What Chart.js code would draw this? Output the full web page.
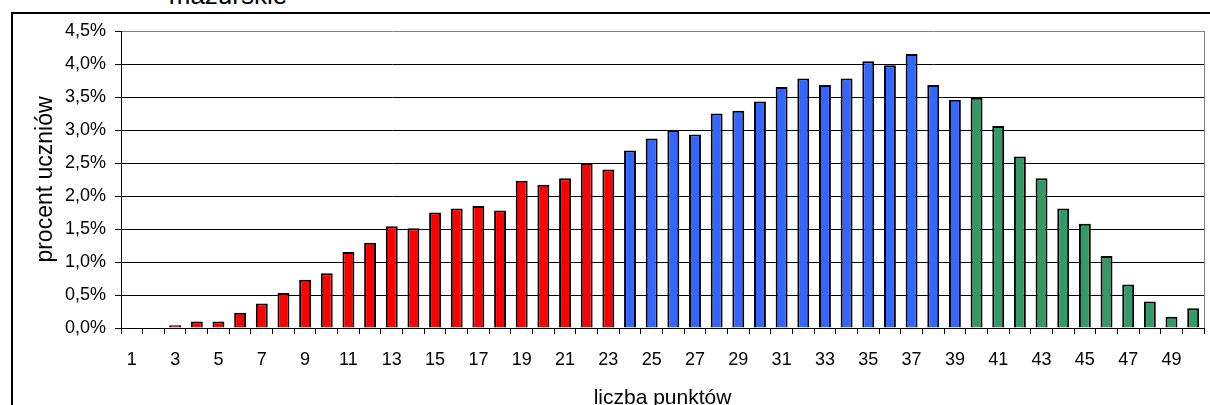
<!DOCTYPE html>
<html>
<head>
<meta charset="utf-8">
<script src="https://cdn.jsdelivr.net/npm/chart.js@4/dist/chart.umd.min.js"></script>
<style>
  html, body { margin: 0; padding: 0; background: #fff; overflow: hidden; }
  #wrap { position: relative; width: 1210px; height: 405px; overflow: hidden; }
  #frame { position: absolute; left: 11px; top: 12px; width: 1300px; height: 500px;
           border-left: 2px solid #000; border-top: 2px solid #000; }
  #title { position: absolute; left: 128px; width: 200px; top: -20px; line-height: 26px;
           text-align: center; font: 26px "Liberation Sans", Arial, sans-serif; color: #000; }
  canvas { position: absolute; left: 0; top: 0; }
</style>
</head>
<body>
<div id="wrap">
  <div id="title">mazurskie</div>
  <div id="frame"></div>
  <canvas id="chart" width="1210" height="405"></canvas>
</div>
<script>
// liczba punktów 1–50
const scorePoints = [
  "1", "2", "3", "4", "5", "6", "7", "8", "9", "10",
  "11", "12", "13", "14", "15", "16", "17", "18", "19", "20",
  "21", "22", "23", "24", "25", "26", "27", "28", "29", "30",
  "31", "32", "33", "34", "35", "36", "37", "38", "39", "40",
  "41", "42", "43", "44", "45", "46", "47", "48", "49", "50"
];

// procent uczniów, split into the three coloured groups
const lowScores = [   // 1–23
  0, 0, 0.04, 0.10, 0.10, 0.23, 0.37, 0.53, 0.73, 0.83,
  1.15, 1.29, 1.54, 1.51, 1.75, 1.81, 1.85, 1.78, 2.23, 2.17,
  2.27, 2.50, 2.40
];
const midScores = [   // 24–39
  2.69, 2.87, 3.00, 2.93, 3.25, 3.29, 3.43, 3.65, 3.78, 3.68,
  3.78, 4.04, 3.98, 4.15, 3.68, 3.46
];
const highScores = [  // 40–50
  3.49, 3.06, 2.60, 2.27, 1.81, 1.58, 1.09, 0.66, 0.40, 0.17,
  0.30
];

const yTicks = [0, 0.5, 1, 1.5, 2, 2.5, 3, 3.5, 4, 4.5];

const FONT = '"Liberation Sans", Arial, sans-serif';

// pad each group with nulls so it lines up with its categories
function place(values, start) {
  const out = scorePoints.map(() => null);
  values.forEach((v, i) => { out[start + i] = v; });
  return out;
}

const barStyle = {
  borderColor: "#000",
  borderWidth: 2,
  barPercentage: 0.55,
  categoryPercentage: 1
};

// gray border on the right of the plot area
const plotBorder = {
  id: "plotBorder",
  afterDraw(chart) {
    const { ctx, chartArea: a } = chart;
    ctx.save();
    ctx.strokeStyle = "#808080";
    ctx.lineWidth = 1;
    ctx.beginPath();
    ctx.moveTo(Math.round(a.right) + 0.5, a.top);
    ctx.lineTo(Math.round(a.right) + 0.5, a.bottom);
    ctx.stroke();
    ctx.restore();
  }
};

new Chart(document.getElementById("chart").getContext("2d"), {
  type: "bar",
  data: {
    labels: scorePoints,
    datasets: [
      { data: place(lowScores, 0), backgroundColor: "#FF0000", ...barStyle },
      { data: place(midScores, lowScores.length), backgroundColor: "#3366FF", ...barStyle },
      { data: place(highScores, lowScores.length + midScores.length), backgroundColor: "#339966", ...barStyle }
    ]
  },
  options: {
    responsive: false,
    animation: false,
    grouped: false,
    layout: { padding: { top: 31, right: 6, left: 0, bottom: 0 } },
    plugins: {
      legend: { display: false },
      tooltip: { enabled: false }
    },
    scales: {
      x: {
        grid: {
          offset: true,
          drawOnChartArea: false,
          tickLength: 6,
          tickColor: "#000",
          color: "#000"
        },
        border: { color: "#000", width: 1 },
        ticks: {
          autoSkip: false,
          maxRotation: 0,
          padding: 15,
          color: "#000",
          font: { family: FONT, size: 18 },
          callback: (val, i) => (i % 2 === 0 ? scorePoints[i] : "")
        },
        title: {
          display: true,
          text: "liczba punktów",
          color: "#000",
          font: { family: FONT, size: 21, lineHeight: 1 },
          padding: { top: 0, bottom: -4 }
        },
        afterFit: (s) => { s.height = 77; }
      },
      y: {
        min: 0,
        max: 4.5,
        afterBuildTicks: (s) => { s.ticks = yTicks.map((v) => ({ value: v })); },
        grid: {
          color: (c) => (c.tick && c.tick.value === 4.5 ? "#808080" : "#000"),
          tickColor: "#000",
          tickLength: 6
        },
        border: { color: "#000", width: 1 },
        ticks: {
          padding: 9,
          color: "#000",
          font: { family: FONT, size: 18 },
          callback: (v) => v.toFixed(1).replace(".", ",") + "%"
        },
        title: {
          display: true,
          text: "procent uczniów",
          color: "#000",
          font: { family: FONT, size: 23 },
          padding: { top: 32, bottom: 0 }
        },
        afterFit: (s) => { s.width = 121; }
      }
    }
  },
  plugins: [plotBorder]
});
</script>
</body>
</html>
